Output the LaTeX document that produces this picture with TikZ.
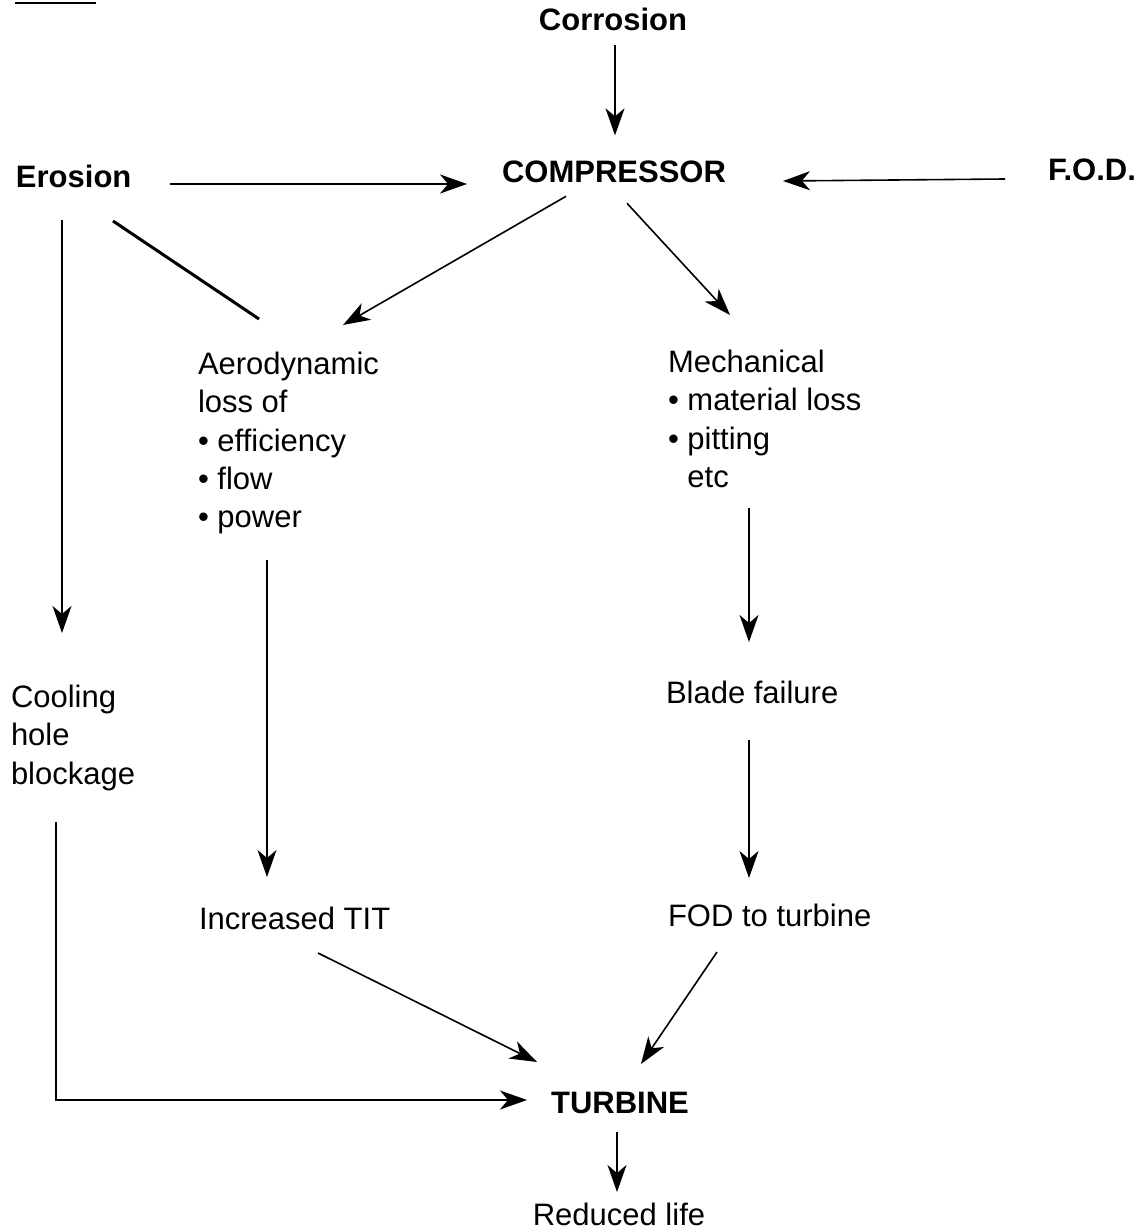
\documentclass[tikz,border=0pt]{standalone}
\usepackage{fontspec}
\setmainfont{Liberation Sans}
\usetikzlibrary{arrows.meta,calc}
\tikzset{
  lbl/.style={inner sep=0pt, outer sep=0pt, font=\fontsize{31}{38.3}\selectfont, align=left},
  blbl/.style={lbl, font=\fontsize{31}{38.3}\selectfont\bfseries},
  arr/.style={line width=1.6pt, -{Stealth[length=27pt,width=19pt,inset=8pt]}},
  thick line/.style={line width=3pt}
}
\begin{document}
\begin{tikzpicture}[x=1pt,y=-1pt]
\useasboundingbox (0,0) rectangle (1140,1230);
% nodes
\node[blbl, anchor=base] (cor) at (613,31) {Corrosion};
\node[blbl, anchor=base] (comp) at (614,183) {COMPRESSOR};
\node[blbl, anchor=base west] (ero) at (16,188) {Erosion};
\node[blbl, anchor=base west] (fod) at (1048,181) {F.O.D.};
\node[lbl, anchor=north west] (aero) at (198,352) {Aerodynamic\\loss of\\• efficiency\\• flow\\• power};
\node[lbl, anchor=north west] (mech) at (668,350) {Mechanical\\• material loss\\• pitting\\\phantom{•\ }etc};
\node[lbl, anchor=north west] (cool) at (11,685) {Cooling\\hole\\blockage};
\node[lbl, anchor=base west] (tit) at (199,929) {Increased TIT};
\node[lbl, anchor=base west] (blade) at (666,703) {Blade failure};
\node[lbl, anchor=base west] (fodt) at (668,926) {FOD to turbine};
\node[blbl, anchor=base] (turb) at (620,1113) {TURBINE};
\node[lbl, anchor=base] (life) at (619,1225) {Reduced life};
% connectors
\draw[arr] ($(cor.south)+(2,14)$) -- ($(comp.north)+(1,-26)$);
\draw[arr] ($(ero.base east)+(39,-4)$) -- ($(comp.base west)+(-35,1)$);
\draw[arr] ($(fod.base west)+(-43,-2)$) -- ($(comp.base east)+(57,-2)$);
\draw[arr] ($(comp.south)+(-48,13)$) -- ($(aero.north west)+(145,-27)$);
\draw[arr] ($(comp.south)+(13,20)$) -- ($(mech.north west)+(62,-35)$);
\draw[thick line] ($(ero.base west)+(97,33)$) -- ($(aero.north west)+(61,-33)$);
\draw[arr] ($(ero.base west)+(46,32)$) -- ($(cool.north west)+(51,-52)$);
\draw[arr] ($(aero.north west)+(69,208)$) -- ($(tit.base west)+(68,-52)$);
\draw[arr] ($(mech.north west)+(81,158)$) -- ($(blade.base west)+(83,-61)$);
\draw[arr] ($(blade.base west)+(83,37)$) -- ($(fodt.base west)+(81,-48)$);
\draw[arr] ($(cool.north west)+(45,137)$) |- ($(turb.base)+(-93,-13)$);
\draw[arr] ($(tit.base west)+(119,24)$) -- ($(turb.base)+(-83,-51)$);
\draw[arr] ($(fodt.base west)+(49,26)$) -- ($(turb.base)+(21,-49)$);
\draw[arr] ($(turb.base)+(-3,19)$) -- ($(life.base)+(-2,-33)$);
% short rule at top left
\draw[line width=2pt] (15,3) -- (96,3);
\end{tikzpicture}
\end{document}
